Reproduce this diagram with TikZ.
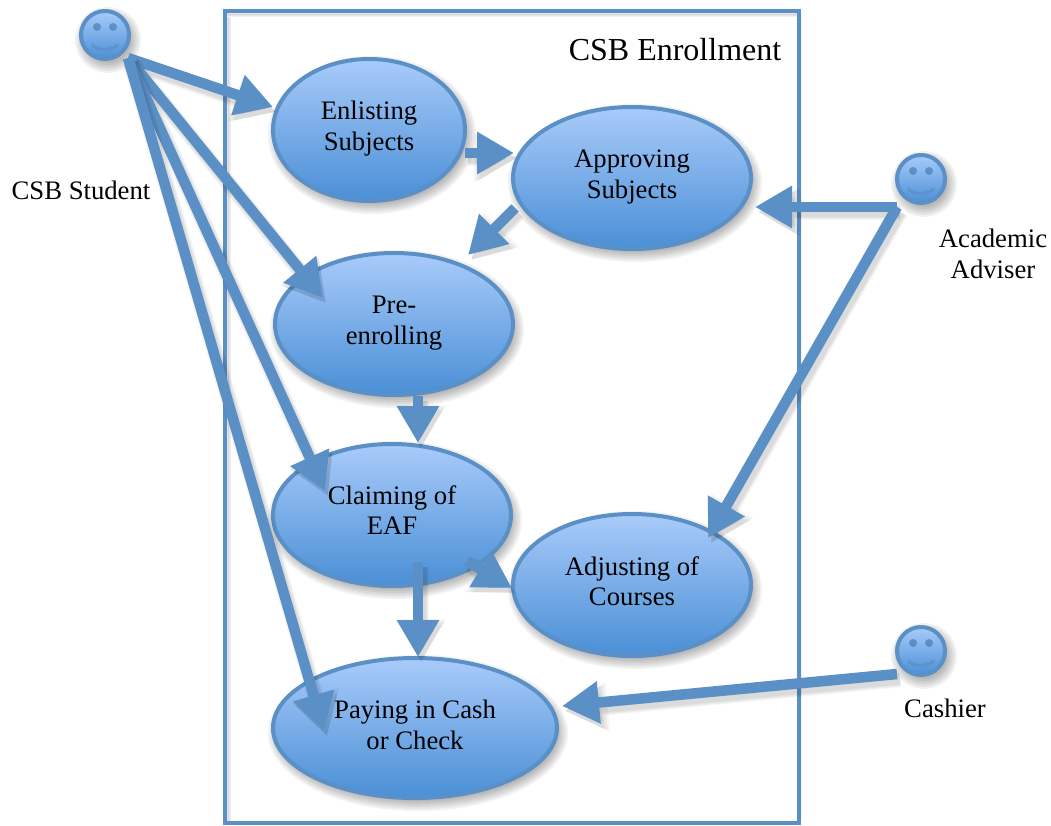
\documentclass[tikz,border=0pt]{standalone}
\usepackage{fontspec}
\setmainfont{Liberation Serif}
\usetikzlibrary{arrows.meta,shapes.geometric,calc}
\definecolor{edgeblue}{HTML}{5B90C6}
\definecolor{topblue}{HTML}{A9CBFA}
\definecolor{botblue}{HTML}{4A8FD6}
\tikzset{
  usecase/.style={ellipse,draw=edgeblue,line width=4pt,top color=topblue,bottom color=botblue,inner sep=0pt},
  smile/.style={circle,draw=edgeblue,line width=4pt,top color=topblue,bottom color=botblue,
    minimum size=48pt,inner sep=0pt},
  lbl/.style={align=center,font=\fontsize{26.7}{30.5}\selectfont,text=black,inner sep=0pt},
  flow/.style={draw=edgeblue,line width=10.5pt,-{Triangle[width=40pt,length=37pt]}},
}
\newcommand{\nodeshadow}[3]{% centre, rx, ry
  \foreach \g in {-3,-1,1,3,5,7}{
    \fill[black,opacity=.05] ($(#1)+(3,5)$) ellipse [x radius={#2+\g},y radius={#3+\g}];
  }
}
\newcommand{\flowarrow}[2]{%
  \foreach \g in {0,2,4,6}{
    \draw[draw=black,fill=black,opacity=.035,line width={10.5pt+\g pt},
      -{Triangle[width={40pt+\g pt},length={37pt+\g pt}]}] ($(#1)+(3,5)$) -- ($(#2)+(3,5)$);
  }
  \draw[flow] (#1) -- (#2);
}
\begin{document}
\begin{tikzpicture}[x=1pt,y=-1pt]
\useasboundingbox (0,0) rectangle (1051,825);
\fill[white] (0,0) rectangle (1051,825);
% frame
\foreach \g in {1,3,5}{
  \draw[black,opacity=.05,line width=\g pt] (225,14) -- (799,14) -- (799,821);
  \draw[black,opacity=.05,line width=\g pt] (228,17) -- (228,821);
}
\coordinate (frameNW) at (225,11);
\coordinate (frameSE) at (799,823);
\draw[edgeblue,line width=3.5pt] (frameNW) rectangle (frameSE);
% shadows
\nodeshadow{369,130}{97}{72}
\nodeshadow{632,178}{120}{72}
\nodeshadow{394,324}{120}{72}
\nodeshadow{392,515}{120}{72}
\nodeshadow{632,585}{120}{72}
\nodeshadow{415,728}{143}{71}
\nodeshadow{105,35}{26}{26}
\nodeshadow{921,179}{26}{26}
\nodeshadow{921,651}{26}{26}
% use cases
\node[usecase,minimum width=192pt,minimum height=142pt] (enlist) at (369,130) {};
\node[usecase,minimum width=238pt,minimum height=142pt] (approve) at (632,178) {};
\node[usecase,minimum width=238pt,minimum height=142pt] (pre) at (394,324) {};
\node[usecase,minimum width=238pt,minimum height=142pt] (claim) at (392,515) {};
\node[usecase,minimum width=238pt,minimum height=142pt] (adjust) at (632,585) {};
\node[usecase,minimum width=284pt,minimum height=140pt] (pay) at (415,728) {};
% actors
\foreach \n/\x/\y in {student/105/35,adviser/921/179,cashier/921/651}{
  \node[smile] (\n) at (\x,\y) {};
  \fill[edgeblue] (\x-8,\y-8) circle (4pt) (\x+8,\y-8) circle (4pt);
  \draw[edgeblue,opacity=.75,line width=3pt] (\x-13,\y+10) .. controls (\x-5,\y+16) and (\x+5,\y+16) .. (\x+13,\y+10);
}
% connector ends
\coordinate (sOut) at (128,58);
\coordinate (vOut) at (897,207);
\coordinate (cOut) at (897,674);
\coordinate (eIn) at (273,107);
\coordinate (pIn) at (323,298);
\coordinate (clIn) at (325,491);
\coordinate (payIn) at (324,731);
\coordinate (eOut) at (465,153);
\coordinate (aIn) at (514,153);
\coordinate (aOut) at (515,208);
\coordinate (pIn2) at (468,255);
\coordinate (pOut) at (418,396);
\coordinate (clIn2) at (418,443);
\coordinate (clOut) at (418,562);
\coordinate (payIn2) at (418,657);
\coordinate (clOut2) at (467,561);
\coordinate (adIn) at (512,588);
\coordinate (aIn2) at (755,207);
\coordinate (adIn2) at (708,538);
\coordinate (payIn3) at (562,706);
% connectors
\flowarrow{sOut}{eIn}
\flowarrow{sOut}{pIn}
\flowarrow{sOut}{clIn}
\flowarrow{sOut}{payIn}
\flowarrow{eOut}{aIn}
\flowarrow{aOut}{pIn2}
\flowarrow{pOut}{clIn2}
\flowarrow{clOut}{payIn2}
\flowarrow{clOut2}{adIn}
\flowarrow{vOut}{aIn2}
\flowarrow{vOut}{adIn2}
\flowarrow{cOut}{payIn3}
% labels
\node[lbl,font=\fontsize{32}{36}\selectfont] (title) at (675,50) {CSB Enrollment};
\node[lbl] (studentlbl) at (81,190) {CSB Student};
\node[lbl] (adviserlbl) at (993,254) {Academic\\Adviser};
\node[lbl] (cashierlbl) at (945,708) {Cashier};
\node[lbl] (enlistlbl) at (369,128.5) {Enlisting\\Subjects};
\node[lbl] (approvelbl) at (632,177) {Approving\\Subjects};
\node[lbl] (prelbl) at (394,323) {Pre-\\enrolling};
\node[lbl] (claimlbl) at (392,510) {Claiming of\\EAF};
\node[lbl] (adjustlbl) at (632,581) {Adjusting of\\Courses};
\node[lbl] (paylbl) at (415,725) {Paying in Cash\\or Check};
\end{tikzpicture}
\end{document}
